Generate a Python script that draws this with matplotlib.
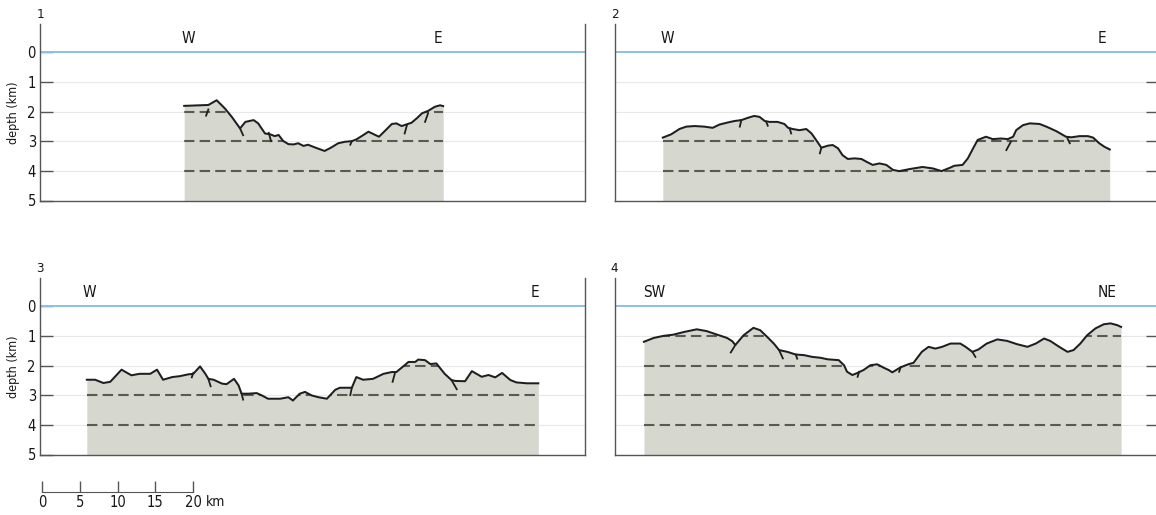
import matplotlib.pyplot as plt
from matplotlib import font_manager

# prefer a condensed face if one is installed
installed = {(f.name, f.stretch) for f in font_manager.fontManager.ttflist}
font_names = {f.name for f in font_manager.fontManager.ttflist}
stretch = 'normal'
if 'Liberation Sans Narrow' in font_names:
    plt.rcParams['font.family'] = ['Liberation Sans Narrow', 'DejaVu Sans']
elif ('DejaVu Sans', 'condensed') in installed:
    plt.rcParams['font.family'] = ['DejaVu Sans']
    stretch = 'condensed'
else:
    plt.rcParams['font.family'] = ['Liberation Sans', 'DejaVu Sans']
plt.rcParams['font.stretch'] = stretch

# profile 1, W-E (km along section, depth in km)
p1_km = [19.1, 22.3, 23.4, 24.5, 25.4, 26.5, 27.2, 28.3, 28.9, 29.8, 30.5, 31.1, 31.6,
         32.2, 32.9, 33.6, 34.2, 34.9, 35.5, 36.4, 37.7, 38.6, 39.5, 40.4, 41.3, 41.9,
         42.6, 43.5, 44.4, 44.9, 45.7, 46.6, 47.2, 47.9, 48.6, 49.2, 49.9, 50.6, 51.4,
         52.3, 53.0, 53.4]
p1_depth = [1.81, 1.78, 1.62, 1.90, 2.18, 2.57, 2.35, 2.29, 2.40, 2.74, 2.77, 2.83, 2.79,
            2.99, 3.10, 3.11, 3.07, 3.16, 3.12, 3.21, 3.33, 3.21, 3.07, 3.02, 3.00, 2.94,
            2.83, 2.68, 2.79, 2.85, 2.65, 2.42, 2.40, 2.49, 2.43, 2.38, 2.23, 2.06, 1.98,
            1.84, 1.79, 1.82]
p1_faults = [((22.3, 1.93), (22.0, 2.14)), ((26.5, 2.57), (26.9, 2.80)),
             ((30.3, 2.72), (30.6, 3.00)), ((41.3, 3.00), (41.1, 3.12)),
             ((48.6, 2.46), (48.3, 2.74)), ((51.4, 2.06), (51.0, 2.35))]

# profile 2, W-E
p2_km = [6.4, 7.5, 8.6, 9.5, 10.6, 11.9, 13.0, 13.9, 15.0, 15.9, 16.8, 17.7, 18.5, 19.2,
         19.9, 20.5, 21.6, 22.5, 23.0, 23.6, 24.5, 25.4, 26.1, 26.7, 27.4, 28.3, 28.9,
         29.6, 30.2, 30.9, 31.8, 32.7, 33.5, 34.2, 35.1, 36.0, 36.9, 37.7, 39.1, 40.8,
         42.2, 43.3, 44.4, 45.0, 46.1, 46.8, 47.5, 48.1, 49.2, 50.1, 51.2, 52.1, 52.8,
         53.2, 54.1, 55.0, 56.3, 57.2, 58.5, 59.8, 60.5, 61.6, 62.7, 63.4, 64.2, 64.9, 65.6]
p2_depth = [2.88, 2.77, 2.59, 2.51, 2.49, 2.51, 2.55, 2.44, 2.37, 2.32, 2.29, 2.21, 2.15, 2.18,
            2.32, 2.35, 2.35, 2.42, 2.55, 2.59, 2.63, 2.59, 2.74, 2.96, 3.22, 3.15, 3.13,
            3.24, 3.47, 3.60, 3.58, 3.60, 3.71, 3.80, 3.75, 3.80, 3.97, 4.01, 3.94, 3.87,
            3.92, 4.01, 3.90, 3.83, 3.80, 3.58, 3.24, 2.96, 2.85, 2.93, 2.91, 2.93, 2.85,
            2.63, 2.46, 2.40, 2.42, 2.51, 2.66, 2.85, 2.87, 2.83, 2.83, 2.88, 3.07, 3.19, 3.28]
p2_faults = [((16.8, 2.29), (16.6, 2.51)), ((20.1, 2.35), (20.3, 2.48)),
             ((23.2, 2.57), (23.4, 2.74)), ((27.4, 3.22), (27.2, 3.41)),
             ((52.5, 3.02), (51.9, 3.30)), ((60.0, 2.91), (60.3, 3.07))]

# profile 3, W-E
p3_km = [6.2, 7.3, 8.4, 9.3, 10.8, 12.1, 13.2, 14.6, 15.5, 16.3, 17.5, 18.5, 19.6, 20.3,
         21.2, 21.9, 22.3, 23.0, 24.1, 24.7, 25.7, 26.3, 26.7, 27.6, 28.7, 29.4, 30.2,
         31.8, 32.9, 33.5, 34.4, 35.1, 36.0, 36.9, 38.0, 39.1, 39.7, 41.3, 41.9, 42.8,
         44.1, 45.5, 46.6, 47.2, 48.3, 48.8, 49.7, 50.1, 51.0, 51.7, 52.5, 53.6, 54.5,
         55.0, 56.3, 57.2, 58.5, 59.4, 60.3, 61.2, 62.3, 63.1, 64.5, 66.0]
p3_depth = [2.48, 2.48, 2.59, 2.55, 2.14, 2.33, 2.28, 2.28, 2.14, 2.48, 2.39, 2.36, 2.30, 2.28,
            2.03, 2.28, 2.45, 2.48, 2.61, 2.63, 2.45, 2.67, 2.95, 2.95, 2.93, 3.01, 3.12,
            3.12, 3.07, 3.18, 2.95, 2.89, 3.01, 3.07, 3.12, 2.82, 2.75, 2.75, 2.39, 2.48,
            2.45, 2.28, 2.22, 2.22, 1.99, 1.88, 1.88, 1.80, 1.82, 1.95, 1.93, 2.28, 2.49,
            2.52, 2.53, 2.19, 2.38, 2.32, 2.40, 2.25, 2.49, 2.57, 2.60, 2.60]
p3_faults = [((20.3, 2.25), (20.1, 2.40)), ((22.3, 2.45), (22.6, 2.70)),
             ((26.7, 2.95), (26.9, 3.15)), ((41.3, 2.75), (41.1, 3.00)),
             ((47.0, 2.27), (46.7, 2.55)), ((54.5, 2.49), (55.2, 2.80))]

# profile 4, SW-NE
p4_km = [3.9, 5.2, 6.5, 7.8, 9.2, 10.9, 12.2, 13.6, 14.9, 15.6, 16.0, 17.1, 18.4, 19.3,
         20.2, 21.1, 21.8, 22.9, 24.0, 25.1, 26.2, 27.3, 28.2, 29.7, 30.4, 30.8, 31.5,
         32.1, 33.0, 33.9, 34.8, 35.7, 36.3, 36.8, 37.9, 39.0, 39.6, 40.7, 41.6, 42.5,
         43.4, 44.5, 45.8, 46.5, 47.4, 48.2, 49.3, 50.7, 52.0, 53.3, 54.7, 55.8, 56.9,
         57.7, 58.9, 60.0, 60.8, 61.7, 62.6, 63.7, 64.8, 65.7, 66.6, 67.1]
p4_depth = [1.20, 1.07, 1.00, 0.96, 0.87, 0.78, 0.84, 0.96, 1.07, 1.18, 1.31, 0.98, 0.73, 0.81,
            1.03, 1.26, 1.48, 1.54, 1.63, 1.65, 1.71, 1.74, 1.79, 1.82, 1.99, 2.21, 2.32,
            2.26, 2.15, 1.99, 1.96, 2.08, 2.15, 2.23, 2.06, 1.95, 1.91, 1.54, 1.37, 1.43,
            1.37, 1.26, 1.26, 1.37, 1.54, 1.46, 1.26, 1.12, 1.17, 1.28, 1.37, 1.26, 1.09,
            1.17, 1.37, 1.54, 1.48, 1.26, 0.98, 0.75, 0.61, 0.58, 0.64, 0.70]
p4_faults = [((16.0, 1.31), (15.4, 1.56)), ((21.8, 1.48), (22.3, 1.76)),
             ((24.0, 1.63), (24.2, 1.77)), ((32.4, 2.21), (32.2, 2.38)),
             ((37.9, 2.06), (37.7, 2.21)), ((47.4, 1.54), (47.8, 1.71))]

panel_names = ['1', '2', '3', '4']
end_labels = [('W', 'E'), ('W', 'E'), ('W', 'E'), ('SW', 'NE')]
end_label_km = [(19.6, 52.7), (7.0, 64.5), (6.6, 65.6), (5.2, 65.2)]
depth_ticks = [0, 1, 2, 3, 4, 5]
scale_ticks = [0, 5, 10, 15, 20]

profiles = [(p1_km, p1_depth, p1_faults), (p2_km, p2_depth, p2_faults),
            (p3_km, p3_depth, p3_faults), (p4_km, p4_depth, p4_faults)]

W, H = 1156, 515
fig = plt.figure(figsize=(W / 100, H / 100), dpi=100)

px_per_km = 7.55
# axes boxes in pixels: left, top, right, bottom
boxes = [(40, 24, 585, 200.5), (614.5, 24, 1160, 200.5),
         (40, 278, 585, 454.5), (614.5, 278, 1160, 454.5)]

fill_col = '#d6d7cf'
line_col = '#1e1e1e'
dash_col = '#5a5a55'
water_col = '#8fc0e6'
spine_col = '#555555'
text_col = '#161616'

for i, (l, t, r, b) in enumerate(boxes):
    ax = fig.add_axes([l / W, 1 - b / H, (r - l) / W, (b - t) / H])
    km, depth, faults = profiles[i]

    ax.set_xlim(0, (r - l) / px_per_km)
    ax.set_ylim(5, -0.95)

    for d in [1, 2, 3, 4]:
        ax.axhline(d, color='#e8e8e8', lw=0.8, zorder=0.5)
    ax.axhline(0, color=water_col, lw=1.4, zorder=2)

    poly = ax.fill_between(km, depth, 5, color=fill_col, lw=0, zorder=1)
    clip = poly.get_paths()[0]
    for d in [1, 2, 3, 4]:
        ln, = ax.plot([km[0], km[-1]], [d, d], color=dash_col, lw=1.5,
                      dashes=(5, 2.5), zorder=2)
        ln.set_clip_path(clip, ax.transData)

    ax.plot(km, depth, color=line_col, lw=1.45, zorder=3, solid_joinstyle='round')
    for (x0, d0), (x1, d1) in faults:
        ax.plot([x0, x1], [d0, d1], color=line_col, lw=1.3, zorder=3)

    left_lab, right_lab = end_labels[i]
    xl, xr = end_label_km[i]
    ax.text(xl, -0.45, left_lab, ha='center', va='center', fontsize=11, color=text_col)
    ax.text(xr, -0.45, right_lab, ha='center', va='center', fontsize=11, color=text_col)

    ax.annotate(panel_names[i], xy=(0, 1), xycoords='axes fraction',
                xytext=(0, 2), textcoords='offset points', ha='center', va='bottom',
                fontsize=9.5, color=text_col)

    for s in ['left', 'right', 'bottom']:
        ax.spines[s].set_color(spine_col)
        ax.spines[s].set_linewidth(1.0)
    ax.spines['top'].set_visible(False)
    ax.set_xticks([])
    ax.patch.set_alpha(0)

    if i in (0, 2):
        ax.set_yticks(depth_ticks)
        ax.tick_params(axis='y', direction='in', length=9, width=1, color=spine_col,
                       pad=3, labelsize=10.5, labelcolor=text_col)
        ax.set_ylabel('depth (km)', fontsize=9, color=text_col, labelpad=5)
    else:
        ax.yaxis.tick_right()
        ax.set_yticks([1, 2, 3, 4])
        ax.tick_params(axis='y', direction='in', length=10, width=1, color=spine_col,
                       labelright=False)

# scale bar
sb = fig.add_axes([42 / W, 1 - 492 / H, 151 / W, 0.001])
sb.set_xlim(scale_ticks[0], scale_ticks[-1])
sb.set_xticks(scale_ticks)
sb.set_xticklabels([str(v) for v in scale_ticks])
sb.set_yticks([])
for s in ['left', 'right', 'top']:
    sb.spines[s].set_visible(False)
sb.spines['bottom'].set_color(spine_col)
sb.tick_params(axis='x', direction='in', length=8, width=1, color=spine_col,
               pad=2, labelsize=10.5, labelcolor=text_col)
sb.patch.set_alpha(0)
sb.annotate('km', xy=(scale_ticks[-1], 0), xycoords=sb.get_xaxis_transform(),
            xytext=(9.5, -2), textcoords='offset points', ha='left', va='top',
            fontsize=10, color=text_col)

fig.savefig('out.png', dpi=100)
